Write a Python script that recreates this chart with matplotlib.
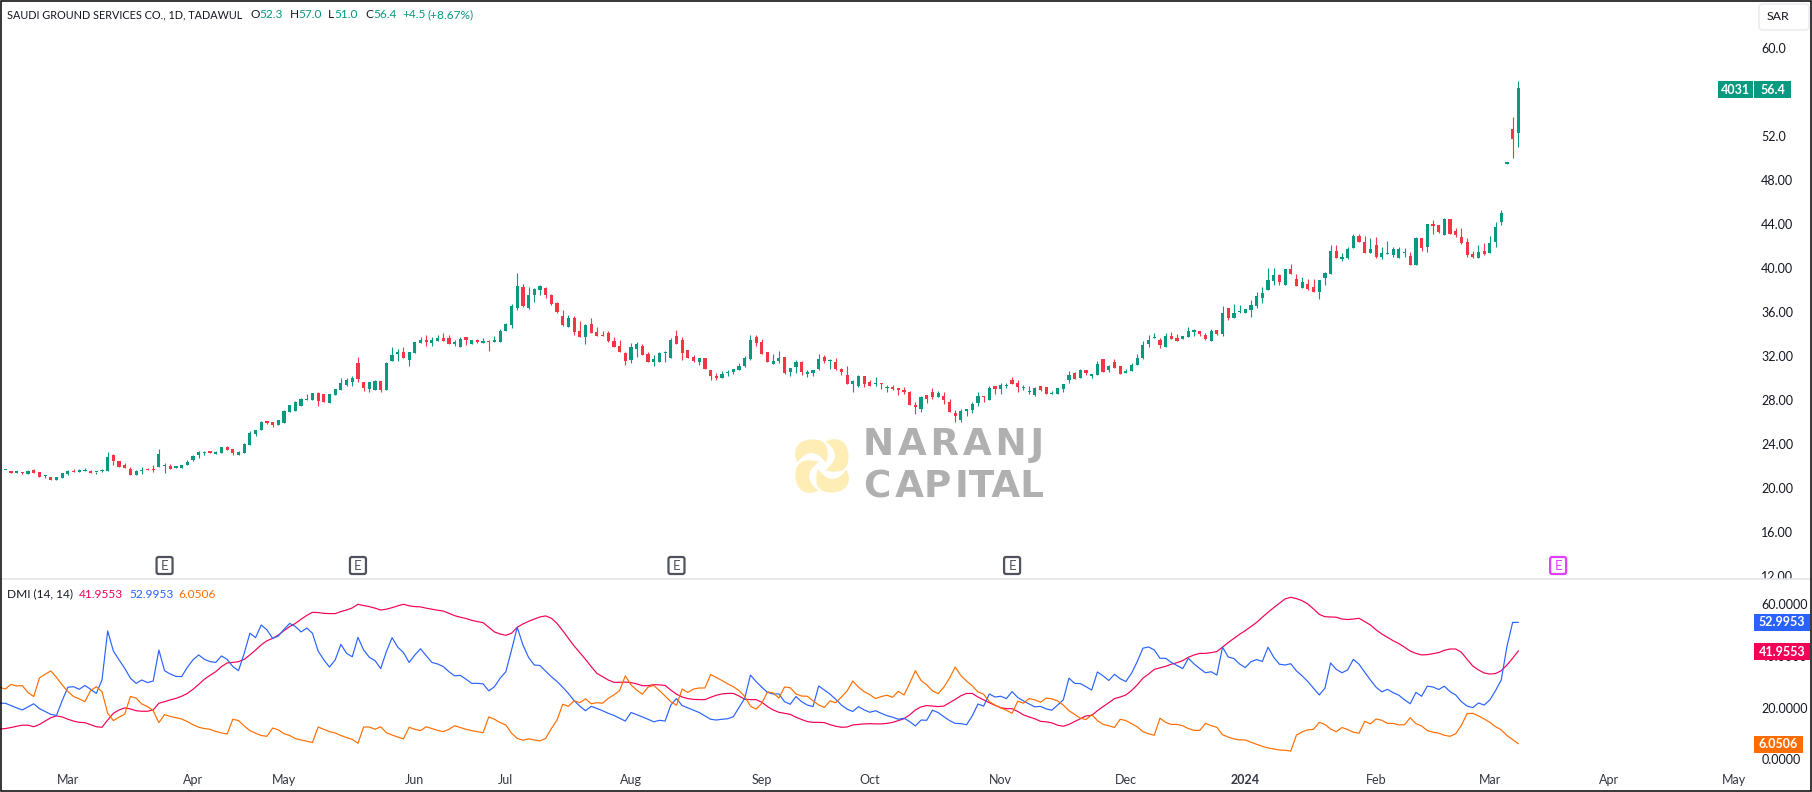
import numpy as np
import matplotlib
matplotlib.use("Agg")
import matplotlib.pyplot as plt
from matplotlib.patches import Rectangle, FancyBboxPatch, PathPatch
from matplotlib.path import Path
from matplotlib.transforms import Affine2D, Bbox, TransformedBbox

W, H = 1812, 792
FONT = "Lato"
plt.rcParams["font.family"] = [FONT, "DejaVu Sans"]

# ---------- daily candles (SAR) ----------
open_ = [21.62,21.57,21.43,21.47,21.3,21.66,21.48,21.08,21.03,20.76,
 20.94,21.3,21.57,21.48,21.57,21.57,21.46,21.57,21.57,23.03,
 22.48,22.12,21.75,21.21,21.57,21.75,21.75,21.94,22.03,22.03,
 21.85,21.85,22.12,22.57,23.03,23.21,23.3,23.12,23.21,23.75,
 23.57,23.03,23.21,23.94,24.94,25.3,26.12,26.03,25.76,25.94,
 26.94,27.03,27.51,28.03,28.03,28.66,28.57,27.75,28.48,28.93,
 29.39,29.66,31.39,29.66,29.03,28.93,29.75,28.93,31.57,32.21,
 32.39,31.66,32.3,33.21,33.48,33.21,33.39,33.66,33.66,33.12,
 32.84,33.75,33.12,33.48,33.21,33.39,33.3,33.3,34.3,34.84,
 36.39,38.3,36.39,37.57,38.03,38.21,37.57,36.84,35.66,34.66,
 35.48,34.3,33.75,34.93,34.21,33.93,34.12,33.39,32.93,32.3,
 31.66,32.66,32.93,32.21,31.48,31.48,32.3,31.84,33.84,33.48,
 32.57,31.93,31.48,31.84,30.75,30.21,30.03,30.48,30.57,30.75,
 31.12,31.75,33.75,33.3,32.39,31.3,31.57,31.93,30.57,31.03,
 31.48,30.39,30.48,30.85,31.94,31.57,31.48,30.85,30.3,29.48,
 29.3,30.21,29.67,29.48,29.55,29.15,29.21,29.12,28.94,28.76,
 27.58,27.21,28.48,28.76,28.3,28.39,27.85,26.85,26.21,27.03,
 27.12,27.76,28.39,28.03,29.3,29.03,29.3,29.85,29.58,29.12,
 28.76,28.48,29.3,29.21,28.58,28.58,29.03,29.85,30.48,30.03,
 30.76,30.21,30.3,31.76,30.76,31.48,31.12,30.52,30.67,31.21,
 31.85,33.12,33.62,33.48,32.85,33.85,33.67,33.57,33.76,34.25,
 34.3,33.94,33.39,34.39,34.03,36.39,35.48,36.03,35.94,36.21,
 36.57,37.3,38.03,38.85,39.39,38.48,39.94,39.03,38.21,38.57,
 38.3,37.84,39.12,39.48,41.57,40.85,40.94,41.84,42.94,42.39,
 41.39,42.12,41.03,41.3,41.21,40.94,41.39,41.12,40.3,42.75,
 41.94,44.03,43.94,43.03,44.48,43.39,42.84,42.39,41.3,40.94,
 41.57,41.39,42.39,44.21,49.52,52.66,52.3]
close = [21.65,21.39,21.48,21.4,21.57,21.39,21.03,21.12,20.76,21.03,
 21.39,21.57,21.48,21.66,21.66,21.39,21.5,21.6,22.85,22.48,
 21.94,21.85,21.21,21.57,21.6,21.66,21.66,23.12,22.05,21.75,
 22.03,22.12,22.4,22.94,23.3,23.3,23.25,23.3,23.75,23.48,
 23.21,23.3,24.03,25.03,25.3,26.03,25.94,25.75,26.24,27.06,
 27.58,27.85,28.12,28.12,28.66,27.93,27.84,28.57,29.02,29.57,
 29.84,30.02,29.93,29.12,29.66,29.75,28.93,31.39,32.12,32.39,
 31.84,32.39,33.3,33.48,33.3,33.48,33.66,33.39,33.12,33.3,
 33.57,33.48,33.48,33.3,33.39,33.33,33.48,34.3,34.93,36.57,
 38.39,36.57,37.57,38.12,38.39,37.57,36.75,36.03,34.84,35.48,
 34.21,33.75,34.84,34.12,33.84,33.84,33.39,32.84,32.39,31.57,
 32.84,33.12,32.12,31.48,31.75,32.3,32.34,33.48,33.12,32.3,
 31.84,31.57,31.84,30.84,30.21,30.03,30.39,30.57,30.84,31.12,
 31.84,33.48,33.21,32.21,31.48,31.57,31.84,30.48,30.93,31.48,
 30.57,30.57,30.75,31.76,31.57,31.6,30.85,30.57,29.48,29.76,
 30.21,29.48,29.3,29.57,29.48,29.24,29.03,28.94,28.76,27.58,
 27.39,28.3,28.12,28.3,28.67,28.03,26.94,26.58,27.03,27.21,
 27.67,28.39,28.33,29.12,29.03,29.39,29.42,29.48,29.21,29.21,
 28.85,29.12,28.94,28.58,28.67,29.12,29.48,30.3,29.94,30.76,
 30.48,30.39,31.3,30.58,31.12,30.94,30.39,30.58,31.21,31.85,
 33.03,33.48,33.67,33.03,33.85,33.57,33.39,33.85,34.3,34.3,
 34.03,33.57,34.3,34.03,35.94,35.48,35.94,36.12,36.3,36.67,
 37.48,37.75,38.94,39.39,38.75,39.94,39.48,38.39,38.75,38.12,
 37.84,38.94,39.57,41.57,40.94,41.03,41.75,42.94,42.39,41.39,
 41.75,41.03,41.39,41.39,41.75,41.75,41.48,40.3,42.75,41.84,
 44.03,43.84,43.3,44.48,43.12,43.03,42.3,41.21,41.03,41.48,
 41.3,42.3,43.75,45.03,49.55,51.75,56.4]
high = [21.65,21.57,21.48,21.47,21.66,21.75,21.48,21.21,21.03,21.03,
 21.39,21.66,21.75,21.75,21.84,21.66,21.5,21.75,23.3,23.12,
 22.48,22.3,21.94,21.66,21.94,21.84,22.12,23.57,22.3,22.2,
 22.03,22.12,22.57,23.03,23.39,23.39,23.3,23.39,23.75,23.85,
 23.57,23.39,24.12,25.21,25.3,26.12,26.12,26.03,26.24,27.12,
 27.58,27.97,28.2,28.57,28.66,28.75,28.57,28.57,29.02,30.02,
 30.02,30.21,31.93,29.66,29.66,29.84,29.75,31.48,32.84,32.66,
 32.84,32.39,33.3,33.75,33.93,33.75,33.93,34.12,33.93,33.48,
 33.75,33.75,33.48,33.57,33.66,33.48,33.84,34.48,35.0,36.75,
 39.57,38.57,38.3,38.21,38.48,38.3,37.66,36.93,36.21,35.75,
 35.66,35.21,34.93,35.48,34.66,34.3,34.3,33.75,33.48,32.39,
 33.21,33.3,33.12,32.39,32.12,32.39,32.48,33.66,34.39,33.75,
 32.57,32.12,31.84,31.84,30.75,30.48,30.66,30.75,30.84,31.39,
 32.03,33.93,33.93,33.57,32.39,32.21,32.48,31.93,30.93,31.66,
 31.57,30.75,30.75,32.21,32.12,31.76,31.85,30.94,31.12,29.85,
 30.3,30.21,29.85,30.12,29.55,29.39,29.39,29.12,29.21,28.85,
 27.85,28.39,28.48,29.12,28.85,28.76,28.12,27.12,27.21,27.21,
 27.85,28.76,28.39,29.3,29.3,29.58,29.58,30.12,29.85,29.39,
 29.3,29.21,29.3,29.21,28.85,29.12,29.48,30.67,30.58,30.85,
 30.76,30.39,31.58,31.76,31.21,31.76,31.12,30.85,31.39,32.21,
 33.39,33.94,34.12,33.67,34.12,34.21,34.03,33.85,34.67,34.48,
 34.3,34.12,34.48,34.39,36.58,36.39,36.76,36.67,36.3,37.12,
 37.85,38.3,40.03,40.03,39.48,39.94,40.39,39.48,39.21,39.03,
 39.03,38.94,39.66,42.12,42.12,41.39,41.94,43.12,43.12,42.94,
 42.75,42.84,41.94,42.48,41.94,41.94,41.84,41.48,42.84,42.75,
 44.03,44.39,43.94,44.57,44.48,43.66,43.66,42.75,41.57,42.12,
 42.3,42.94,44.21,45.3,49.55,53.75,57.0]
low = [21.62,21.39,21.43,21.3,21.3,21.39,21.03,20.94,20.76,20.76,
 20.94,21.21,21.48,21.48,21.57,21.39,21.3,21.48,21.57,22.12,
 21.94,21.85,21.21,21.21,21.3,21.66,21.48,21.94,21.39,21.75,
 21.85,21.85,22.12,22.48,22.75,23.03,23.25,23.12,23.21,23.48,
 23.03,23.03,23.21,23.94,24.75,25.3,25.85,25.57,25.76,25.94,
 26.94,27.03,27.51,28.03,28.03,27.51,27.84,27.75,28.48,28.93,
 29.3,29.3,29.66,28.84,28.75,28.93,28.75,28.93,31.57,31.57,
 31.84,31.12,32.3,33.21,32.93,32.93,33.39,33.39,33.12,32.93,
 32.84,33.03,33.12,33.2,33.21,32.48,33.3,33.3,34.3,34.57,
 36.21,36.48,36.3,36.93,37.57,37.3,36.66,35.93,34.75,34.66,
 33.93,33.75,33.12,34.12,33.84,33.84,33.3,32.84,32.39,31.21,
 31.39,31.93,32.12,31.48,31.12,31.48,31.48,31.84,33.12,31.66,
 31.84,31.48,31.21,30.84,29.84,29.84,30.03,30.21,30.39,30.75,
 31.03,31.66,32.93,32.21,31.48,31.3,31.39,30.39,30.21,30.48,
 30.3,30.12,30.21,30.75,31.39,30.85,30.75,30.3,29.48,28.76,
 29.21,29.21,29.3,29.3,29.03,28.76,28.94,28.48,28.58,27.58,
 26.76,26.94,27.76,28.12,28.3,27.67,26.94,26.03,26.03,26.58,
 26.85,27.48,27.85,28.03,28.58,28.58,29.12,29.48,28.76,28.94,
 28.58,28.39,28.85,28.58,28.58,28.58,28.76,29.58,29.94,30.03,
 30.3,30.03,30.3,30.58,30.58,30.94,30.39,30.52,30.67,31.21,
 31.76,32.85,33.62,32.76,32.85,33.57,33.39,33.57,33.76,33.85,
 33.85,33.48,33.39,33.94,33.85,35.3,35.48,35.94,35.94,35.58,
 36.39,36.85,38.03,38.48,38.48,38.48,39.48,38.39,38.21,38.03,
 37.84,37.21,38.48,39.48,40.94,40.66,40.85,41.84,42.39,41.39,
 41.39,40.94,40.84,41.3,41.03,40.94,41.03,40.3,40.3,41.57,
 41.48,43.12,43.21,43.03,43.12,42.84,42.21,41.03,40.94,40.94,
 41.21,41.39,41.94,43.94,49.52,50.03,51.0]

# ---------- DMI lines: one value per bar, starting one bar before the first candle ----------
adx = [11.7,11.9,12.3,12.8,13.2,13.2,12.6,13.5,14.8,16.1,16.8,16.4,15.5,14.8,14.3,14.2,13.4,12.6,12.4,15.2,
 17.8,19.1,19.9,19.5,18.8,18.6,18.6,19.1,21.7,22.3,23.0,23.6,24.4,25.5,27.1,29.0,31.0,32.5,33.9,35.9,
 37.3,37.5,37.8,38.7,40.4,42.3,44.3,45.9,46.8,48.1,49.8,51.4,52.6,54.2,55.7,56.9,56.8,56.5,56.4,56.4,
 57.2,57.8,58.6,60.0,59.5,59.1,58.5,57.8,58.1,58.7,59.4,60.0,59.4,59.1,59.0,58.5,58.1,57.7,57.4,56.5,
 55.6,55.0,54.5,53.8,53.3,52.9,51.1,49.3,48.5,48.0,48.8,51.1,52.4,53.4,54.3,55.1,55.5,54.6,52.6,49.8,
 46.8,43.9,41.3,38.7,35.9,33.3,
 32.0,30.7,29.8,29.8,29.9,29.7,29.2,28.5,28.5,28.9,28.8,28.6,26.8,25.2,24.1,23.5,23.2,23.1,23.1,24.0,
 24.8,25.3,25.5,25.5,24.5,23.2,23.1,23.1,22.1,20.4,19.1,18.2,17.8,17.4,16.3,15.4,14.6,14.3,14.3,14.2,
 13.4,12.8,12.4,12.5,13.3,13.5,13.7,13.8,13.7,13.7,13.9,14.3,15.0,15.7,17.2,19.1,20.3,20.8,20.6,20.4,
 20.6,21.9,23.2,24.6,25.5,25.5,24.1,23.0,21.9,20.9,20.0,19.6,19.6,18.5,17.2,16.4,15.7,14.7,14.5,14.1,
 13.2,12.8,13.5,14.6,15.7,16.8,17.0,18.8,20.4,21.9,23.5,24.1,24.9,26.6,28.8,31.4,33.0,34.8,35.4,36.0,
 36.8,37.4,38.2,39.5,40.4,41.0,
 41.0,41.3,41.7,43.4,45.2,46.8,48.4,49.8,51.4,53.0,55.0,56.9,58.7,60.4,62.1,62.7,62.2,61.4,60.1,58.2,
 56.1,55.2,55.1,55.0,54.3,54.1,54.3,54.6,53.3,52.0,50.1,48.5,47.2,45.9,44.8,43.4,41.9,41.0,40.4,40.5,
 40.9,41.3,42.2,42.7,42.7,41.4,38.7,36.1,34.6,33.4,33.0,33.2,34.3,36.5,39.1,41.9553]
plus_di = [21.7,21.7,20.8,19.9,19.1,20.3,21.5,19.6,18.5,17.4,17.0,22.7,27.9,28.1,27.1,28.6,27.1,25.5,30.7,49.7,
 41.9,38.5,35.2,31.4,29.4,30.7,29.7,30.3,42.3,34.3,33.0,32.1,32.0,35.6,38.5,40.4,38.7,37.8,37.5,40.0,
 38.7,35.9,34.3,41.0,48.8,47.1,52.0,50.1,46.8,47.7,50.3,52.6,51.4,49.3,50.8,48.8,41.9,38.5,35.7,38.5,
 44.5,41.0,39.7,47.2,42.3,39.5,38.2,35.1,41.7,47.1,43.4,41.3,37.5,40.4,42.8,40.1,37.5,36.9,35.9,33.9,
 32.3,32.5,31.0,29.4,29.4,29.2,26.5,28.1,31.4,33.9,42.3,51.1,44.3,39.4,36.5,36.3,34.1,32.0,30.1,27.9,
 25.5,22.7,20.6,18.8,20.5,19.7,
 18.8,17.8,17.0,15.9,14.8,18.1,17.3,16.4,15.5,14.5,15.1,14.8,21.0,23.5,20.8,19.9,19.0,18.1,16.8,15.5,
 15.2,15.5,15.7,16.5,20.1,23.6,32.6,30.1,27.9,25.9,25.3,25.3,22.3,21.3,24.3,22.3,21.0,20.4,28.4,26.8,
 25.2,23.2,21.0,19.4,18.5,20.4,19.1,18.2,18.8,17.8,16.9,16.3,15.5,15.9,14.6,12.9,15.2,15.1,19.0,18.1,
 16.5,15.0,13.9,13.8,13.4,16.8,21.4,20.6,25.3,24.1,24.4,23.5,26.2,23.9,22.6,21.4,20.3,20.5,19.5,19.0,
 21.0,23.0,31.4,29.4,29.3,28.1,26.8,33.8,32.3,30.5,32.9,31.2,30.1,33.3,37.8,43.0,43.5,42.3,39.1,39.1,
 37.5,36.3,35.1,39.1,36.9,35.1,
 33.5,33.9,32.6,43.4,39.6,39.0,36.9,35.5,37.8,38.6,37.9,43.4,39.5,36.8,36.5,37.0,34.2,32.3,30.1,27.5,
 24.9,27.5,37.3,34.8,33.5,34.6,38.7,36.8,33.7,30.7,27.9,26.1,27.1,25.8,24.8,23.0,21.5,25.9,24.4,28.3,
 28.0,27.0,28.3,26.2,24.9,22.3,20.6,20.0,21.8,21.0,23.0,26.6,30.7,43.6,53.0,52.9953]
minus_di = [27.9,27.2,29.0,28.4,28.5,25.8,24.3,31.5,32.9,34.2,31.7,28.8,26.2,24.3,23.4,22.3,26.6,28.1,26.2,17.8,
 15.0,16.3,17.5,24.3,23.7,21.4,20.4,18.8,14.2,17.3,16.6,16.1,15.6,14.6,13.4,12.4,11.9,11.6,10.8,10.2,
 9.8,15.5,15.0,12.9,11.1,10.1,9.2,8.9,12.1,11.4,9.9,9.2,8.0,7.5,7.0,6.5,12.5,11.6,10.7,10.2,
 9.2,8.4,7.7,6.2,12.5,12.5,11.6,12.6,10.3,9.4,8.6,7.9,12.4,11.6,11.1,12.6,11.9,11.2,10.7,11.6,
 13.0,12.3,11.6,11.1,10.7,10.3,16.4,15.5,14.2,13.3,10.1,8.1,7.4,7.9,7.5,7.1,8.1,11.9,15.2,21.3,
 20.5,22.7,21.9,23.4,21.5,21.9,
 21.7,23.6,24.9,26.6,32.3,28.8,26.8,25.2,27.9,28.6,26.6,24.5,22.3,20.9,27.2,25.9,27.2,27.6,27.6,32.8,
 31.7,30.5,29.2,28.1,26.6,24.3,20.6,19.4,21.7,26.1,25.7,23.7,28.0,27.7,25.3,24.5,24.4,22.7,21.0,20.1,
 22.6,21.9,24.1,26.5,30.3,27.9,26.2,25.0,23.5,24.3,24.8,24.0,26.3,24.9,29.4,34.3,30.5,28.8,26.5,25.4,
 27.9,31.4,35.7,32.4,30.3,28.4,26.1,25.2,22.3,21.0,19.9,19.0,17.8,22.5,21.7,23.5,23.0,22.1,23.7,23.4,
 22.6,21.0,18.8,17.4,15.9,15.4,17.3,15.0,13.5,13.0,12.3,15.5,15.0,13.8,12.6,10.7,9.9,9.3,15.9,14.3,
 13.5,13.5,13.0,11.9,11.2,11.2,
 13.9,13.0,12.4,9.5,8.6,7.9,7.5,7.5,6.6,5.8,5.0,4.4,4.0,3.6,3.5,3.2,9.4,10.6,11.4,11.6,
 14.3,13.5,11.7,10.7,12.3,11.5,10.5,10.1,14.7,13.7,15.6,15.1,13.9,13.9,13.3,13.4,16.1,13.8,12.9,11.1,
 10.5,10.1,9.3,8.9,9.9,13.2,17.7,17.8,16.8,15.6,14.3,12.6,11.4,9.2,7.6,6.0506]

# ---------- labels ----------
price_ticks = [12,16,20,24,28,32,36,40,44,48,52,60]
price_labels = ["12.00","16.00","20.00","24.00","28.00","32.00","36.00","40.00","44.00","48.00","52.0","60.0"]
dmi_ticks = [0,20,40,60]
dmi_labels = ["0.0000","20.0000","40.0000","60.0000"]
month_bars = [11,33,49,72,88,110,133,152,175,197,218,241,261,282,304]
month_labels = ["Mar","Apr","May","Jun","Jul","Aug","Sep","Oct","Nov","Dec","2024","Feb","Mar","Apr","May"]
earnings_bars = [28,62,118,177,273]

UP, DOWN = "#089981", "#F23645"
C_ADX, C_PLUS, C_MINUS = "#F50057", "#2962FF", "#FF6D00"
TXT = "#131722"
TS = 9.0

fig = plt.figure(figsize=(W/100, H/100), dpi=100, facecolor="white")
def fx(x): return x/W
def fy(y): return 1 - y/H
def axes_px(x0, y0, x1, y1):
    return fig.add_axes([fx(x0), fy(y1), (x1-x0)/W, (y1-y0)/H])

PX_RIGHT = 1754.0
DX, X0 = 5.688, 5.3
xlim = ((0-X0)/DX, (PX_RIGHT-X0)/DX)
SEP = 578.7

# ---------- price pane ----------
ax = axes_px(0, 1, PX_RIGHT, SEP)
ax.set_xlim(*xlim)
ax.set_ylim(48-(SEP-180.3)/11, 48-(1-180.3)/11)
o, c, h, l = map(np.array, (open_, close, high, low))
x = np.arange(len(o))
cols = np.where(c >= o, UP, DOWN)
ax.vlines(x, l, h, colors=cols, linewidth=0.8, zorder=3)
ax.bar(x, np.maximum(np.abs(c-o), 0.1), bottom=np.minimum(o, c), width=0.56, color=cols, linewidth=0, zorder=4)
ax.set_xticks([])
ax.yaxis.tick_right()
ax.set_yticks(price_ticks, price_labels)
ax.tick_params(axis="y", length=0, pad=5.2, labelsize=TS, labelcolor=TXT)
for s in ax.spines.values():
    s.set_visible(False)
clip = TransformedBbox(Bbox.from_extents(0, fy(SEP), 1, 1), fig.transFigure)
for t in ax.get_yticklabels():
    t.set_clip_box(clip)
    t.set_clip_on(True)

# ---------- DMI pane ----------
ax2 = axes_px(0, SEP+1, PX_RIGHT, 770)
ax2.set_xlim(*xlim)
k = 155/60
ax2.set_ylim((759.3-770)/k, (759.3-(SEP+1))/k)
xd = np.arange(-1, 267)
ax2.plot(xd, adx, color=C_ADX, lw=0.85, zorder=3)
ax2.plot(xd, plus_di, color=C_PLUS, lw=0.85, zorder=4)
ax2.plot(xd, minus_di, color=C_MINUS, lw=0.85, zorder=5)
ax2.yaxis.tick_right()
ax2.set_yticks(dmi_ticks, dmi_labels)
ax2.set_xticks(month_bars, month_labels)
ax2.tick_params(axis="y", length=0, pad=5.2, labelsize=TS, labelcolor=TXT)
ax2.tick_params(axis="x", length=0, pad=3.2, labelsize=TS, labelcolor="#333742")
ax2.get_xticklabels()[10].set_fontweight("bold")
for s in ax2.spines.values():
    s.set_visible(False)

# ---------- page furniture, in pixels ----------
def txt(xp, yp, s, color=TXT, size=TS, ha="left", weight="normal", family=None, z=10):
    return fig.text(fx(xp), fy(yp), s, color=color, fontsize=size, ha=ha, va="center",
                    fontweight=weight, zorder=z, family=family or [FONT, "DejaVu Sans"])
def box(x0, y0, x1, y1, color, z=8):
    fig.add_artist(Rectangle((fx(x0), fy(y1)), (x1-x0)/W, (y1-y0)/H, transform=fig.transFigure,
                             facecolor=color, edgecolor="none", zorder=z))

# separator and frame
fig.add_artist(plt.Line2D([0, 1], [fy(SEP)]*2, color="#E0E3EB", lw=1.1, zorder=2))
fig.add_artist(Rectangle((fx(0.5), fy(790.6)), 1810.2/W, 790.1/H, transform=fig.transFigure,
                         facecolor="none", edgecolor="black", lw=1.1, zorder=20))

# header
txt(7, 15, "SAUDI GROUND SERVICES CO., 1D, TADAWUL", size=7.8)
for xp, s, col in [(250,"O",TXT),(259,"52.3",UP),(290,"H",TXT),(298,"57.0",UP),(328,"L",TXT),(334,"51.0",UP),
                   (365,"C",TXT),(373,"56.4",UP),(402,"+4.5",UP),(427,"(+8.67%)",UP)]:
    txt(xp, 15, s, color=col, size=8.6)

# DMI legend
txt(7, 594, "DMI (14, 14)", size=8.6)
txt(79, 594, "41.9553", color=C_ADX, size=8.6)
txt(129, 594, "52.9953", color=C_PLUS, size=8.6)
txt(178, 594, "6.0506", color=C_MINUS, size=8.6)

# currency button
fig.add_artist(FancyBboxPatch((1759, H-30), 50, 26, boxstyle="round,pad=0,rounding_size=4",
                              transform=Affine2D().scale(1/W, 1/H)+fig.transFigure,
                              facecolor="white", edgecolor="#E9EBF0", lw=1.1, zorder=8))
txt(1767, 17, "SAR", size=8.9)

# last-value tags
box(1718, 81, 1791, 98, UP)
box(1753, 81, 1754, 98, "white", z=9)
txt(1735.5, 89.7, "4031", color="white", ha="center", weight="bold")
txt(1772.5, 89.7, "56.4", color="white", ha="center", weight="bold")
box(1754, 614, 1810, 631, C_PLUS)
txt(1782, 622.5, "52.9953", color="white", ha="center", weight="bold")
box(1754, 643, 1810, 660, C_ADX)
txt(1782, 651.5, "41.9553", color="white", ha="center", weight="bold")
box(1754, 736, 1803, 753, C_MINUS)
txt(1778.5, 744.5, "6.0506", color="white", ha="center", weight="bold")

# earnings markers
for b in earnings_bars:
    xc = ax.transData.transform((b, 0))[0]
    col = "#E040FB" if b == earnings_bars[-1] else "#50535E"
    fig.add_artist(FancyBboxPatch((xc-8, H-574), 16, 17, boxstyle="round,pad=0,rounding_size=2",
                                  transform=Affine2D().scale(1/W, 1/H)+fig.transFigure,
                                  facecolor="white", edgecolor=col, lw=1.6, zorder=9))
    txt(xc, 565.5, "E", color=col, size=9.6, ha="center")

# watermark
WM = "#B0B0B0"
txt(953.5, 444.5, "N\u200aA\u200aR\u200aA\u200aN\u200aJ", color=WM, size=26.8, ha="center", weight="bold", family=["DejaVu Sans"], z=1)
txt(954, 486.5, "C\u200aAP\u200aITAL", color=WM, size=26.8, ha="center", weight="bold", family=["DejaVu Sans"], z=1)
pts = [(3.3,24.3),(10,28),(16,26.5),(26,24),(26.5,10),(27,-5),(14,-5.7),(8,-6),(3.3,-4),(14,4),(13,12),(11,20),(3.3,24.3)]
codes = [Path.MOVETO]+[Path.CURVE3]*12
for rot in (0, 90, 180, 270):
    tr = (Affine2D().rotate_deg(rot).translate(822, H-466).scale(1/W, 1/H)+fig.transFigure)
    fig.add_artist(PathPatch(Path(pts, codes), transform=tr, facecolor="#FEEDB5", edgecolor="none", zorder=1))

fig.savefig("out.png", dpi=100, facecolor="white")
